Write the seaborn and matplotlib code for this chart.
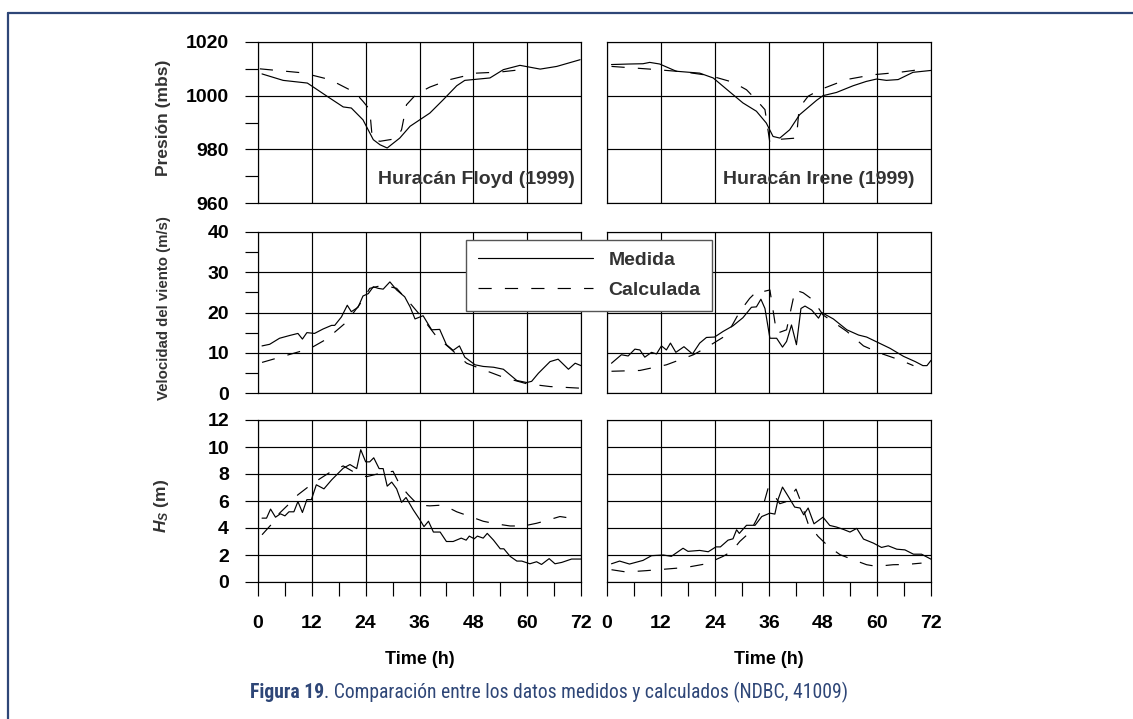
import matplotlib
matplotlib.use("Agg")
import matplotlib.pyplot as plt
from matplotlib.lines import Line2D
from matplotlib import font_manager
import seaborn as sns

# ---------------- data ----------------
hours_major = [0, 12, 24, 36, 48, 60, 72]
hours_minor = [6, 18, 30, 42, 54, 66]

# Hurricane Floyd (1999) - pressure (mbs)
floyd_p_med_t = [0.9, 5.6, 11, 16, 19, 20.8, 23.4, 25.7, 27.2, 28.8, 31.6, 33.9, 38.3,
                 41.3, 44.3, 46.1, 51.7, 54.7, 58.4, 62.9, 66.6, 71.8]
floyd_p_med = [1008.1, 1005.7, 1004.7, 999.1, 995.8, 995.4, 991.0, 983.6, 981.7, 980.5,
               984.2, 988.6, 993.5, 998.5, 1003.7, 1005.7, 1006.6, 1009.7, 1011.3, 1009.9,
               1010.9, 1013.4]
floyd_p_cal_t = [0.4, 10, 16, 21.6, 23.4, 24.9, 25.5, 27.2, 30.9, 32, 33.1, 35.3, 38.3,
                 42.8, 48.7, 53.9, 58.7]
floyd_p_cal = [1010.0, 1008.5, 1006.0, 1001.2, 997.9, 994.8, 983.6, 983.0, 984.0, 987.3,
               996.6, 1000.6, 1003.2, 1006.0, 1008.4, 1008.8, 1009.7]

# Hurricane Irene (1999) - pressure (mbs)
irene_p_med_t = [1, 5, 8, 9.5, 11.7, 15.4, 20.6, 23.6, 26.5, 30.2, 33.2, 35.4, 36.9, 38.4,
                 40.6, 42.8, 46.6, 48, 51, 54.7, 57.6, 59.9, 62.1, 64.7, 68, 72]
irene_p_med = [1011.6, 1011.8, 1011.9, 1012.4, 1011.8, 1009.1, 1008.4, 1006.6, 1002.5,
               997.3, 994.2, 989.8, 984.8, 984.2, 987.3, 992.9, 998.3, 1000.0, 1001.2,
               1003.7, 1005.3, 1006.2, 1005.7, 1006.0, 1008.7, 1009.4]
irene_p_cal_t = [1, 9.5, 16.9, 22.8, 28, 31, 32.8, 35.1, 36.2, 37.3, 42.1, 42.7, 44.7,
                 47.3, 53.2, 59.1, 65, 70.3]
irene_p_cal = [1010.9, 1009.9, 1008.9, 1007.5, 1005.0, 1002.2, 999.1, 994.8, 982.4, 983.6,
               984.2, 995.4, 999.8, 1002.2, 1006.0, 1007.8, 1008.7, 1009.9]

# Hurricane Floyd (1999) - wind speed (m/s)
floyd_w_med_t = [0.9, 2.6, 4.8, 7.1, 8.9, 9.9, 10.9, 12.6, 14.5, 16.4, 17.1, 18.6, 19.9,
                 20.8, 22.3, 23.4, 24.6, 25.7, 26.8, 27.9, 29.4, 30.9, 32.7, 33.9, 35,
                 36.8, 38.7, 40.5, 42, 43.5, 44.9, 46.1, 48.4, 50.2, 52.5, 54.7, 56.2,
                 57.7, 59.9, 61, 62.5, 65.1, 66.9, 69.2, 70.7, 72]
floyd_w_med = [11.7, 12.1, 13.6, 14.3, 14.8, 13.4, 15.0, 14.8, 15.9, 16.8, 16.8, 18.9,
               21.8, 20.2, 21.3, 24.1, 24.7, 26.4, 26.0, 25.8, 27.6, 25.6, 23.9, 21.4,
               18.4, 19.2, 15.7, 15.8, 12.0, 10.6, 11.7, 8.9, 7.0, 6.6, 6.4, 5.9, 4.5,
               3.1, 2.6, 2.9, 4.9, 7.8, 8.4, 5.9, 7.4, 6.8]
floyd_w_cal_t = [0.9, 9.3, 12.3, 15.3, 19.7, 23.4, 24.9, 27.9, 30.9, 33.9, 36.1, 39.8,
                 42.8, 46.5, 50.2, 54.7, 59.9, 65.1, 71.8]
floyd_w_cal = [7.6, 10.3, 11.5, 13.4, 17.6, 23.1, 26.0, 26.8, 26.0, 22.3, 19.4, 14.0,
               11.1, 7.4, 5.8, 3.9, 2.3, 1.6, 1.2]

# Hurricane Irene (1999) - wind speed (m/s)
irene_w_med_t = [1, 3.2, 4.7, 6.2, 7.3, 8.4, 9.9, 11, 12.1, 13.2, 14.1, 15.3, 17.1, 19,
                 20.6, 22.1, 23.9, 25.8, 28, 30.2, 32.1, 33.2, 34.2, 35.1, 36.2, 37.7,
                 39, 39.9, 41, 42.1, 43.1, 44, 45.5, 47, 47.7, 50.3, 53.3, 55.9, 57.7,
                 60.3, 62.9, 65.9, 68.5, 70.2, 71.1, 72]
irene_w_med = [7.4, 9.5, 9.2, 10.9, 10.7, 8.9, 10.1, 9.7, 11.7, 10.7, 12.4, 10.1, 11.5,
               9.7, 12.4, 13.8, 13.9, 15.3, 16.7, 18.7, 21.3, 21.4, 23.3, 21.0, 13.6,
               13.6, 11.4, 12.8, 16.9, 12.0, 21.0, 21.6, 20.6, 18.6, 20.0, 18.4, 15.7,
               14.4, 13.9, 12.5, 11.1, 9.1, 7.8, 6.8, 6.8, 8.1]
irene_w_cal_t = [1, 7.3, 13.2, 19.2, 22.1, 26.6, 29.5, 31.7, 33.6, 34.7, 36.2, 37.7,
                 39.9, 41.8, 43.6, 45.8, 48, 53.3, 57, 60.7, 65.1, 68.1]
irene_w_cal = [5.4, 5.6, 7.0, 9.5, 11.3, 14.4, 20.2, 23.5, 25.6, 25.2, 25.6, 14.8, 15.7,
               25.6, 24.9, 23.1, 19.4, 15.3, 11.7, 9.9, 8.2, 6.8]

# Hurricane Floyd (1999) - significant wave height Hs (m)
floyd_h_med_t = [0.9, 1.9, 2.8, 3.9, 5, 6, 6.9, 8, 8.9, 9.9, 10.9, 11.9, 13, 14.7, 16.4,
                 19, 20.5, 22, 22.9, 24, 24.9, 25.8, 27, 27.9, 28.8, 29.8, 30.9, 32, 33,
                 34.6, 36.1, 37, 38, 39.1, 40.6, 42, 43.5, 45.3, 46.4, 47.1, 48.2, 48.9,
                 50.2, 51.1, 52.5, 54, 54.8, 56.2, 57.7, 58.8, 60.6, 62.1, 63.2, 64.9,
                 66.2, 67.7, 69.9, 72]
floyd_h_med = [4.73, 4.73, 5.4, 4.8, 5.05, 4.9, 5.2, 5.2, 5.96, 5.15, 6.1, 6.1, 7.2, 6.9,
               7.56, 8.43, 8.7, 8.4, 9.8, 8.9, 8.9, 9.2, 8.4, 8.4, 7.1, 7.4, 6.9, 5.9,
               6.26, 5.35, 4.6, 4.1, 4.5, 3.7, 3.7, 3.0, 3.0, 3.25, 3.1, 3.4, 3.2, 3.4,
               3.25, 3.6, 3.1, 2.46, 2.46, 1.9, 1.55, 1.55, 1.35, 1.5, 1.3, 1.73, 1.35,
               1.45, 1.7, 1.7]
floyd_h_cal_t = [0.9, 2.8, 4.8, 7.1, 8.9, 11.4, 13.8, 16.4, 19, 21.6, 24.2, 27.2, 30.1,
                 31.6, 33.5, 35.7, 38.3, 41.3, 44.3, 47.3, 50.2, 53.2, 56.2, 59.2, 62.1,
                 64.3, 67.3, 70.3]
floyd_h_cal = [3.5, 4.2, 5.1, 5.84, 6.46, 7.1, 7.65, 8.2, 8.6, 8.1, 7.8, 8.05, 8.2, 7.2,
               6.46, 5.7, 5.64, 5.7, 5.2, 4.85, 4.5, 4.3, 4.15, 4.15, 4.35, 4.55, 4.85,
               4.7]

# Hurricane Irene (1999) - significant wave height Hs (m)
irene_h_med_t = [1, 2.8, 5, 8, 9.9, 12.5, 14.3, 16.9, 18, 20.6, 22.5, 24.2, 25.2, 26.9,
                 28, 28.8, 29.4, 31, 32.9, 34.4, 36.2, 37.3, 38, 39, 40.3, 41.7, 42.9,
                 43.7, 44.7, 46, 48, 49.5, 51, 52.5, 54, 55.5, 57, 59.2, 61, 62.5, 64.4,
                 66.2, 68.1, 69.9, 72]
irene_h_med = [1.35, 1.55, 1.33, 1.6, 1.95, 2.0, 1.9, 2.5, 2.27, 2.34, 2.24, 2.6, 2.6,
               3.1, 3.2, 3.87, 3.6, 4.2, 4.2, 4.85, 5.1, 5.03, 6.1, 7.03, 6.33, 5.55,
               5.48, 4.98, 5.48, 4.31, 4.8, 4.19, 4.07, 3.9, 3.7, 3.97, 3.18, 2.88,
               2.56, 2.68, 2.43, 2.38, 2.06, 2.06, 1.69]
irene_h_cal_t = [1, 4.3, 8.7, 13.2, 17.6, 22.1, 25.8, 27.7, 29.5, 31.7, 33.2, 34.7, 35.8,
                 36.6, 38.4, 39.9, 42, 42.9, 44.7, 46.9, 49.2, 51.8, 54.7, 57.7, 59.9,
                 63.6, 66.6, 69.9]
irene_h_cal = [0.91, 0.74, 0.84, 0.96, 1.08, 1.35, 1.9, 2.27, 3.0, 3.67, 4.6, 5.64, 6.95,
               6.7, 5.8, 5.96, 6.88, 6.1, 4.31, 3.38, 2.64, 2.02, 1.65, 1.28, 1.16, 1.28,
               1.3, 1.4]

panel_titles = ["Huracán Floyd (1999)", "Huracán Irene (1999)"]
row_labels = ["Presión (mbs)", "Velocidad del viento (m/s)", "$H_S$ (m)"]
legend_labels = ["Medida", "Calculada"]
x_label = "Time (h)"
caption_bold = "Figura 19"
caption_rest = ". Comparación entre los datos medidos y calculados (NDBC, 41009)"

# ---------------- style ----------------
sns.set_theme(style="white")
available = {f.name for f in font_manager.fontManager.ttflist}
plt.rcParams["font.family"] = ["Liberation Sans", "DejaVu Sans"]
plt.rcParams["mathtext.fontset"] = "custom"
plt.rcParams["mathtext.it"] = "Liberation Sans:bold:italic"
plt.rcParams["mathtext.rm"] = "Liberation Sans:bold"
plt.rcParams["lines.scale_dashes"] = False

# caption face: a condensed sans if one is present, otherwise a smaller regular sans
caption_family, caption_size = "Liberation Sans", 12.4
for name, size in [("Roboto Condensed", 14.1), ("Open Sans Condensed", 14.1),
                   ("Liberation Sans Narrow", 14.1), ("Noto Sans Condensed", 14.1)]:
    if name in available:
        caption_family, caption_size = name, size
        break

INK = "black"
TEXT = "#333333"
NAVY = "#2e4677"
DASH = (0, (9.5, 9.5))
LW = 0.85

W, H = 1133, 719
fig = plt.figure(figsize=(W / 100, H / 100), dpi=100)


def fx(px):
    return px / W


def fy(py):
    return 1 - py / H


cols = [(258, 581), (607, 931)]
rows = [(42, 203), (232, 393), (420, 582)]

series = [
    [(floyd_p_med_t, floyd_p_med, floyd_p_cal_t, floyd_p_cal),
     (irene_p_med_t, irene_p_med, irene_p_cal_t, irene_p_cal)],
    [(floyd_w_med_t, floyd_w_med, floyd_w_cal_t, floyd_w_cal),
     (irene_w_med_t, irene_w_med, irene_w_cal_t, irene_w_cal)],
    [(floyd_h_med_t, floyd_h_med, floyd_h_cal_t, floyd_h_cal),
     (irene_h_med_t, irene_h_med, irene_h_cal_t, irene_h_cal)],
]
ylims = [(960, 1020), (0, 40), (0, 12)]
ymajor = [[960, 980, 1000, 1020], [0, 10, 20, 30, 40], [0, 2, 4, 6, 8, 10, 12]]
yminor = [[970, 990, 1010], [5, 15, 25, 35], []]
label_y_offset = [0.03, 0.03, -0.03]
label_size = [12.5, 10.8, 12.5]

for r, (top, bot) in enumerate(rows):
    for c, (left, right) in enumerate(cols):
        ax = fig.add_axes([fx(left), fy(bot), fx(right - left), (bot - top) / H])
        t_med, v_med, t_cal, v_cal = series[r][c]
        sns.lineplot(x=t_med, y=v_med, ax=ax, color=INK, lw=LW, sort=False, estimator=None)
        sns.lineplot(x=t_cal, y=v_cal, ax=ax, color=INK, lw=LW, linestyle=DASH,
                     sort=False, estimator=None)
        ax.set_xlim(0, 72)
        ax.set_ylim(*ylims[r])
        ax.set_xticks(hours_major)
        ax.set_xticks(hours_minor, minor=True)
        ax.set_yticks(ymajor[r])
        ax.set_yticks(yminor[r], minor=True)
        ax.grid(True, which="major", color=INK, lw=LW)
        for s in ax.spines.values():
            s.set_visible(True)
            s.set_color(INK)
            s.set_linewidth(LW)
        ax.tick_params(which="both", direction="out", color=INK, width=LW,
                       labelsize=14, labelcolor="black")
        ax.tick_params(axis="y", which="both", length=9.4, pad=11.5)
        ax.tick_params(axis="x", which="both", length=10.3, pad=13.5)
        for lab in ax.get_xticklabels() + ax.get_yticklabels():
            lab.set_fontweight("bold")
        ax.set_xlabel("")
        ax.set_ylabel("")
        if c == 0:
            ax.tick_params(axis="y", which="both", left=True, labelleft=True)
            ax.set_ylabel(row_labels[r], fontsize=label_size[r], fontweight="bold",
                          color=TEXT)
            ax.yaxis.set_label_coords(-0.269, 0.5 + label_y_offset[r])
        else:
            ax.tick_params(axis="y", which="both", left=False, labelleft=False)
        if r == 2:
            ax.tick_params(axis="x", which="both", bottom=True, labelbottom=True)
            ax.set_xlabel(x_label, fontsize=13, fontweight="bold", color="black")
            ax.xaxis.set_label_coords(0.5, -0.425)
        else:
            ax.tick_params(axis="x", which="both", bottom=False, labelbottom=False)
        if r == 0:
            x_end = 70.7 if c == 0 else 68.4
            ax.text(x_end, 968.6, panel_titles[c], ha="right", va="center",
                    fontsize=14, fontweight="bold", color=TEXT)

# shared legend across the wind panels
handles = [Line2D([], [], color=INK, lw=LW),
           Line2D([], [], color=INK, lw=LW, linestyle=DASH)]
leg = fig.legend(handles, legend_labels, loc="upper left",
                 bbox_to_anchor=(fx(466), fy(240)), bbox_transform=fig.transFigure,
                 frameon=True, fancybox=False, framealpha=1, edgecolor="#555555",
                 prop={"size": 14, "weight": "bold"}, labelcolor=TEXT,
                 handlelength=5.95, handletextpad=0.77, borderpad=0.6,
                 labelspacing=0.62, borderaxespad=0)
leg.get_frame().set_linewidth(1.0)

# page frame (top and left rules)
fig.add_artist(Line2D([fx(8), 1], [fy(13), fy(13)], color=NAVY, lw=1.6,
                      transform=fig.transFigure))
fig.add_artist(Line2D([fx(8), fx(8)], [fy(13), 0], color=NAVY, lw=1.6,
                      transform=fig.transFigure))

# caption
t1 = fig.text(fx(250), fy(698), caption_bold, ha="left", va="baseline",
              fontsize=caption_size, fontweight="bold", color=NAVY, family=caption_family)
fig.canvas.draw()
bb = t1.get_window_extent(renderer=fig.canvas.get_renderer())
fig.text(bb.x1 / W, fy(698), caption_rest, ha="left", va="baseline",
         fontsize=caption_size, color=NAVY, family=caption_family)

fig.savefig("out.png", dpi=100)
